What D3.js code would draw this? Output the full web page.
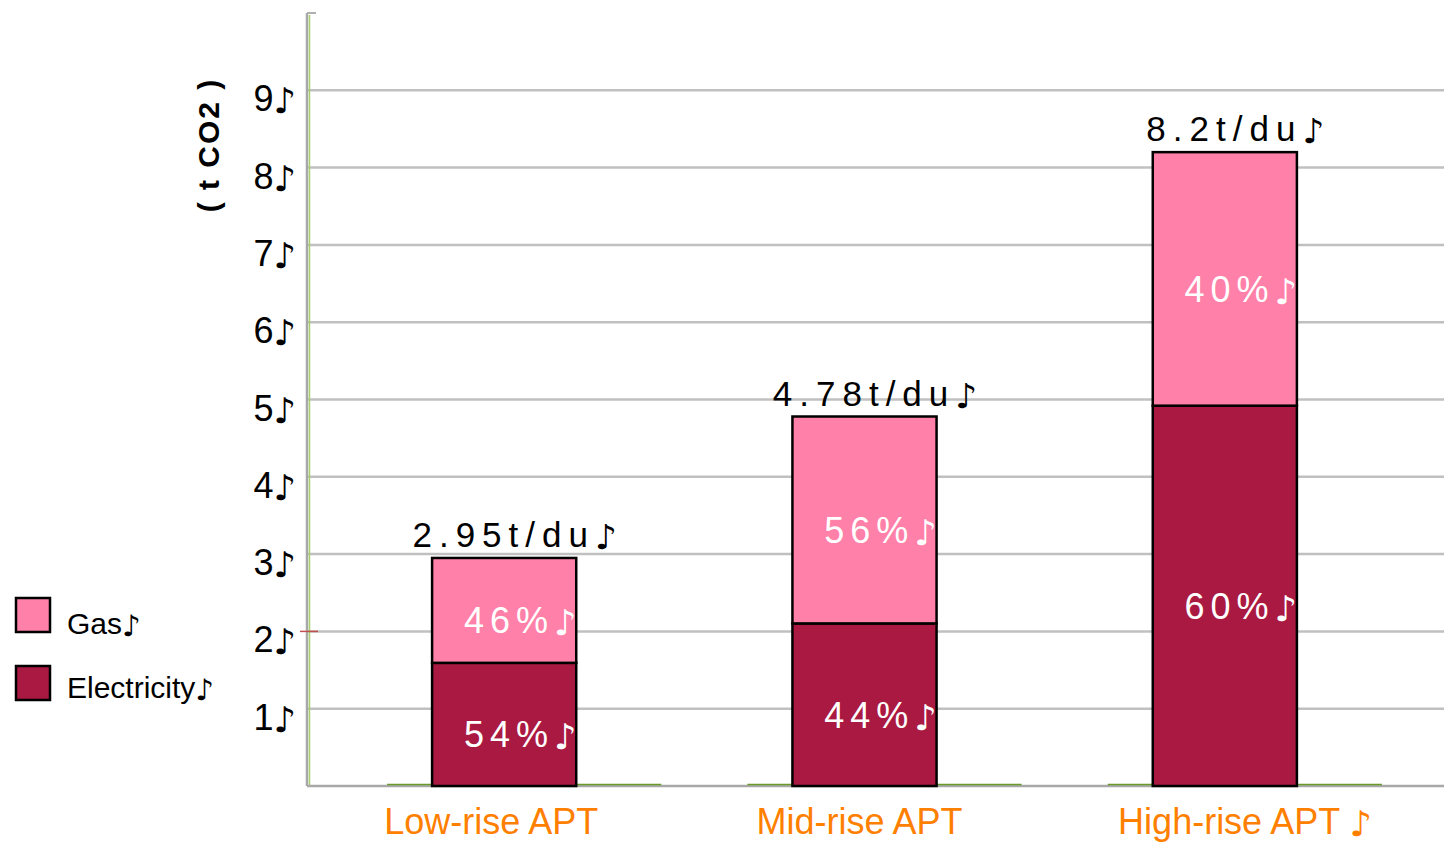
<!DOCTYPE html>
<html>
<head>
<meta charset="utf-8">
<script src="https://cdn.jsdelivr.net/npm/d3@7/dist/d3.min.js"></script>
<style>
  html, body { margin: 0; padding: 0; background: #ffffff; }
  svg { display: block; font-family: "Liberation Sans", Arial, "DejaVu Sans", sans-serif; }
  .note { font-family: "DejaVu Sans", sans-serif; font-size: 0.98em; }
</style>
</head>
<body>
<svg id="chart" width="1444" height="846"></svg>
<script>
// Household CO2 emissions per dwelling unit, by apartment type
const categories = ["Low-rise APT", "Mid-rise APT", "High-rise APT"];
const categoryLabels = ["Low-rise APT", "Mid-rise APT", "High-rise APT ♪"];
const totals = [2.95, 4.78, 8.2];              // t CO2 per dwelling unit
const totalLabels = ["2.95t/du♪", "4.78t/du♪", "8.2t/du♪"];
const electricityShare = [54, 44, 60];         // percent
const gasShare = [46, 56, 40];                 // percent
const yTicks = [1, 2, 3, 4, 5, 6, 7, 8, 9];
const seriesNames = ["Gas♪", "Electricity♪"];
const yTitle = "( t CO2 )";

const colors = { gas: "#ff80a8", electricity: "#aa1941" };

const svg = d3.select("#chart");

// writes a string into a text node, setting the note sign in its own glyph
function richText(sel, str) {
  sel.text(null);
  str.split(/(♪)/).filter(s => s.length).forEach(part => {
    const t = sel.append("tspan").text(part);
    if (part === "♪") t.attr("class", "note").attr("dy", 2);
  });
}

const x = d3.scaleBand()
  .domain(categories)
  .range([324, 1405])
  .paddingInner(0.6)
  .paddingOuter(0.3);

const y = d3.scaleLinear().domain([0, 10]).range([786, 13]);

// stacked values: electricity at the bottom, gas on top
const rows = categories.map((c, i) => ({
  cat: c,
  total: totals[i],
  electricity: totals[i] * electricityShare[i] / 100,
  gas: totals[i] * gasShare[i] / 100,
  eShare: electricityShare[i],
  gShare: gasShare[i],
  label: totalLabels[i],
  axisLabel: categoryLabels[i]
}));
const stack = d3.stack().keys(["electricity", "gas"]);
const layers = stack(rows);

// horizontal gridlines
svg.append("g")
  .selectAll("line")
  .data(yTicks)
  .join("line")
  .attr("x1", 308).attr("x2", 1444)
  .attr("y1", d => y(d)).attr("y2", d => y(d))
  .attr("stroke", "#c0c0c0")
  .attr("stroke-width", 2.5);

// y axis line (grey with a light green edge)
svg.append("line")
  .attr("x1", 307).attr("x2", 307)
  .attr("y1", y(10)).attr("y2", y(0))
  .attr("stroke", "#a8a8a8").attr("stroke-width", 2.5);
svg.append("line")
  .attr("x1", 309.5).attr("x2", 309.5)
  .attr("y1", y(10) + 2).attr("y2", y(0))
  .attr("stroke", "#a8d070").attr("stroke-width", 1.5);
svg.append("line")
  .attr("x1", 307).attr("x2", 316)
  .attr("y1", y(10)).attr("y2", y(10))
  .attr("stroke", "#b0b0b0").attr("stroke-width", 2);

// small red tick on the axis at 2
svg.append("line")
  .attr("x1", 300).attr("x2", 318)
  .attr("y1", y(2)).attr("y2", y(2))
  .attr("stroke", "#c0504d").attr("stroke-width", 1.5);

// baseline
svg.append("line")
  .attr("x1", 307).attr("x2", 1444)
  .attr("y1", y(0)).attr("y2", y(0))
  .attr("stroke", "#a8a8a8").attr("stroke-width", 2.5);
svg.append("g")
  .selectAll("line")
  .data(categories)
  .join("line")
  .attr("x1", d => x(d) - 45).attr("x2", d => x(d) + x.bandwidth() + 85)
  .attr("y1", y(0) - 1.5).attr("y2", y(0) - 1.5)
  .attr("stroke", "#6a9a2a").attr("stroke-width", 1.5);

// y tick labels
svg.append("g")
  .selectAll("text")
  .data(yTicks)
  .join("text")
  .attr("x", 296)
  .attr("y", d => y(d) + 21)
  .attr("text-anchor", "end")
  .attr("font-size", 36)
  .attr("fill", "#000")
  .each(function (d) { richText(d3.select(this), d + "♪"); });

// y axis title
svg.append("text")
  .attr("transform", "translate(219,145) rotate(-90)")
  .attr("text-anchor", "middle")
  .attr("font-size", 30)
  .attr("font-weight", "bold")
  .attr("letter-spacing", 2)
  .attr("fill", "#000")
  .text(yTitle);

// bars
const layerColor = { electricity: colors.electricity, gas: colors.gas };
const barG = svg.append("g");
layers.forEach(layer => {
  barG.append("g")
    .selectAll("rect")
    .data(layer)
    .join("rect")
    .attr("x", d => x(d.data.cat))
    .attr("width", x.bandwidth())
    .attr("y", d => y(d[1]))
    .attr("height", d => y(d[0]) - y(d[1]))
    .attr("fill", layerColor[layer.key])
    .attr("stroke", "#000")
    .attr("stroke-width", 2.5);
});

// percentage labels inside segments
layers.forEach(layer => {
  barG.append("g")
    .selectAll("text")
    .data(layer)
    .join("text")
    .attr("x", d => x(d.data.cat) + x.bandwidth() / 2 + 19)
    .attr("y", d => (y(d[0]) + y(d[1])) / 2 + 23)
    .attr("text-anchor", "middle")
    .attr("font-size", 36)
    .attr("letter-spacing", 6)
    .attr("fill", "#ffffff")
    .each(function (d) {
      richText(d3.select(this), (layer.key === "electricity" ? d.data.eShare : d.data.gShare) + "%♪");
    });
});

// total labels above bars
svg.append("g")
  .selectAll("text")
  .data(rows)
  .join("text")
  .attr("x", d => x(d.cat) + x.bandwidth() / 2 + 14)
  .attr("y", d => y(d.total) - 11)
  .attr("text-anchor", "middle")
  .attr("font-size", 35)
  .attr("letter-spacing", 7)
  .attr("fill", "#000")
  .each(function (d) { richText(d3.select(this), d.label); });

// category labels
svg.append("g")
  .selectAll("text")
  .data(rows)
  .join("text")
  .attr("y", 834)
  .attr("font-size", 36)
  .attr("fill", "#ff8000")
  .each(function (d, i) {
    const sel = d3.select(this);
    richText(sel, d.axisLabel);
    const w = this.getSubStringLength(0, d.cat.length);
    const offsets = [-13, -5, 4];
    sel.attr("x", x(d.cat) + x.bandwidth() / 2 + offsets[i] - w / 2);
  });

// legend
const legendItems = [
  { name: seriesNames[0], color: colors.gas },
  { name: seriesNames[1], color: colors.electricity }
];
const lg = svg.append("g");
legendItems.forEach((item, i) => {
  lg.append("rect")
    .attr("x", 16).attr("y", 598 + i * 68)
    .attr("width", 34).attr("height", 34)
    .attr("fill", item.color)
    .attr("stroke", "#000").attr("stroke-width", 2.5);
  const t = lg.append("text")
    .attr("x", 67).attr("y", 634 + i * 64)
    .attr("font-size", 30)
    .attr("fill", "#000");
  richText(t, item.name);
});
</script>
</body>
</html>
